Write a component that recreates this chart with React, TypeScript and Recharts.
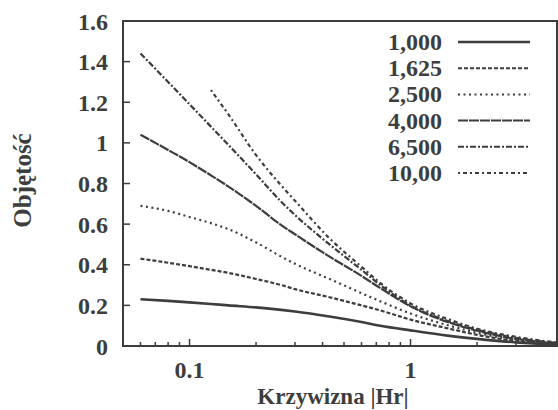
import { LineChart, Line, XAxis, YAxis, Legend, ReferenceArea } from "recharts";

const curvature = [0.06, 0.08, 0.1, 0.125, 0.15, 0.2, 0.26, 0.3, 0.43, 0.6, 0.73, 1, 1.5, 2, 3, 4.6];

const v1000 = [0.23, 0.222, 0.215, 0.207, 0.2, 0.19, 0.178, 0.17, 0.145, 0.118, 0.1, 0.077, 0.05, 0.035, 0.018, 0.007];
const v1625 = [0.43, 0.41, 0.393, 0.375, 0.36, 0.33, 0.3, 0.28, 0.24, 0.2, 0.175, 0.13, 0.085, 0.055, 0.025, 0.01];
const v2500 = [0.69, 0.665, 0.635, 0.605, 0.575, 0.51, 0.44, 0.405, 0.33, 0.26, 0.22, 0.16, 0.1, 0.065, 0.03, 0.012];
const v4000 = [1.04, 0.965, 0.905, 0.84, 0.785, 0.69, 0.595, 0.55, 0.44, 0.345, 0.285, 0.195, 0.115, 0.075, 0.035, 0.013];
const v6500 = [1.44, 1.3, 1.19, 1.08, 0.99, 0.845, 0.71, 0.645, 0.5, 0.375, 0.3, 0.2, 0.12, 0.08, 0.04, 0.015];

// 10,00 only starts at 0.125, so it has its own x list
const curvature10 = [0.125, 0.15, 0.2, 0.26, 0.3, 0.43, 0.6, 0.73, 1, 1.5, 2, 3, 4.6];
const v10000 = [1.26, 1.14, 0.94, 0.79, 0.715, 0.53, 0.39, 0.31, 0.21, 0.13, 0.085, 0.045, 0.017];

const seriesNames = ["1,000", "1,625", "2,500", "4,000", "6,500", "10,00"];
const fullSeries = [v1000, v1625, v2500, v4000, v6500];
const dashes = [undefined, "4 2", "2 3.5", "10 1", "6 2 2 2", "2 3 4 3"];

const yTicks = [0, 0.2, 0.4, 0.6, 0.8, 1, 1.2, 1.4, 1.6];
const xTicks = [0.06, 0.07, 0.08, 0.09, 0.1, 0.2, 0.3, 0.4, 0.5, 0.6, 0.7, 0.8, 0.9, 1, 2, 3, 4];
const xMajor = [0.1, 1];

// shared table has no gaps (nulls in it made the axes vanish)
const data = curvature.map((x, i) => {
  const row: any = { x };
  fullSeries.forEach((vals, s) => {
    row["s" + s] = vals[i];
  });
  return row;
});
const data10 = curvature10.map((x, i) => ({ x, s5: v10000[i] }));

const INK = "#3d3d3d";
const FONT = "'Liberation Serif', 'DejaVu Serif', serif";
const X_DOMAIN: [number, number] = [0.05, 4.6];
const Y_DOMAIN: [number, number] = [0, 1.6];

const BottomTick = (props: any) => {
  const { x, y, payload } = props;
  const major = xMajor.includes(payload.value);
  return (
    <g>
      <path d={`M${x},${y}V${y - (major ? 7 : 4)}`} stroke={INK} strokeWidth={1.5} fill="none" />
      {major && (
        <text x={x} y={y + 32} textAnchor="middle" fontFamily={FONT} fontWeight="bold" fontSize={24} fill={INK}>
          {payload.value}
        </text>
      )}
    </g>
  );
};

const TopTick = (props: any) => {
  const { x, y, payload } = props;
  const major = xMajor.includes(payload.value);
  return <path d={`M${x},${y}V${y + (major ? 7 : 4)}`} stroke={INK} strokeWidth={1.5} fill="none" />;
};

const LeftTick = (props: any) => {
  const { x, y, payload } = props;
  return (
    <g>
      <path d={`M${x},${y}H${x + 7}`} stroke={INK} strokeWidth={1.5} fill="none" />
      <text x={x - 15} y={y + 8.5} textAnchor="end" fontFamily={FONT} fontWeight="bold" fontSize={24} fill={INK}>
        {payload.value}
      </text>
    </g>
  );
};

const RightTick = (props: any) => {
  const { x, y } = props;
  return <path d={`M${x},${y}H${x - 7}`} stroke={INK} strokeWidth={1.5} fill="none" />;
};

const LegendBox = () => (
  <svg width={190} height={170}>
    {seriesNames.map((n, i) => {
      const cy = 15 + i * 26.2;
      return (
        <g key={n}>
          <text x={72} y={cy + 8} textAnchor="end" fontFamily={FONT} fontWeight="bold" fontSize={24} fill={INK}>
            {n}
          </text>
          <line x1={88} x2={160} y1={cy} y2={cy} stroke={INK} strokeWidth={i === 0 ? 2.5 : 2} strokeDasharray={dashes[i]} />
        </g>
      );
    })}
  </svg>
);

const axisCommon = { tickSize: 0, tickMargin: 0, tickLine: false, axisLine: false, interval: 0 as const };

export default function App() {
  return (
    <div style={{ position: "absolute", left: 0, top: 0, background: "#fff" }}>
      <LineChart width={558} height={410} data={data} margin={{ top: 21, right: 1, bottom: 0, left: 0 }}>
        <XAxis
          {...axisCommon}
          dataKey="x"
          type="number"
          scale="log"
          domain={X_DOMAIN}
          allowDataOverflow
          ticks={xTicks}
          height={64}
          tick={<BottomTick />}
          label={({ viewBox }: any) => (
            <text
              x={viewBox.x + viewBox.width / 2 - 7}
              y={viewBox.y + 58}
              textAnchor="middle"
              fontFamily={FONT}
              fontWeight="bold"
              fontSize={23}
              fill={INK}
            >
              Krzywizna |Hr|
            </text>
          )}
        />
        <XAxis
          {...axisCommon}
          xAxisId="top"
          orientation="top"
          dataKey="x"
          type="number"
          scale="log"
          domain={X_DOMAIN}
          allowDataOverflow
          ticks={xTicks}
          height={0}
          tick={<TopTick />}
        />
        <YAxis
          {...axisCommon}
          type="number"
          domain={Y_DOMAIN}
          ticks={yTicks}
          width={123}
          tick={<LeftTick />}
          label={({ viewBox }: any) => {
            const cx = viewBox.x + 22;
            const cy = viewBox.y + viewBox.height / 2 - 3;
            return (
              <text
                x={cx}
                y={cy}
                transform={`rotate(-90 ${cx} ${cy})`}
                textAnchor="middle"
                dominantBaseline="central"
                fontFamily={FONT}
                fontWeight="bold"
                fontSize={25}
                fill={INK}
              >
                Objętość
              </text>
            );
          }}
        />
        <YAxis
          {...axisCommon}
          yAxisId="right"
          orientation="right"
          type="number"
          domain={Y_DOMAIN}
          ticks={yTicks}
          width={0}
          tick={<RightTick />}
        />
        <ReferenceArea
          x1={X_DOMAIN[0]}
          x2={X_DOMAIN[1]}
          y1={Y_DOMAIN[0]}
          y2={Y_DOMAIN[1]}
          fill="none"
          stroke={INK}
          strokeWidth={2}
          ifOverflow="visible"
        />
        <Legend
          layout="vertical"
          align="center"
          verticalAlign="middle"
          content={<LegendBox />}
          wrapperStyle={{ position: "absolute", left: 370, top: 27, width: 190, height: 170 }}
        />
        {fullSeries.map((_, i) => (
          <Line
            key={seriesNames[i]}
            name={seriesNames[i]}
            dataKey={"s" + i}
            type="monotone"
            stroke={INK}
            strokeWidth={i === 0 ? 2.6 : 2.2}
            strokeDasharray={dashes[i]}
            dot={false}
            isAnimationActive={false}
          />
        ))}
        <Line
          name={seriesNames[5]}
          data={data10}
          dataKey="s5"
          type="monotone"
          stroke={INK}
          strokeWidth={2.2}
          strokeDasharray={dashes[5]}
          dot={false}
          isAnimationActive={false}
        />
      </LineChart>
    </div>
  );
}
